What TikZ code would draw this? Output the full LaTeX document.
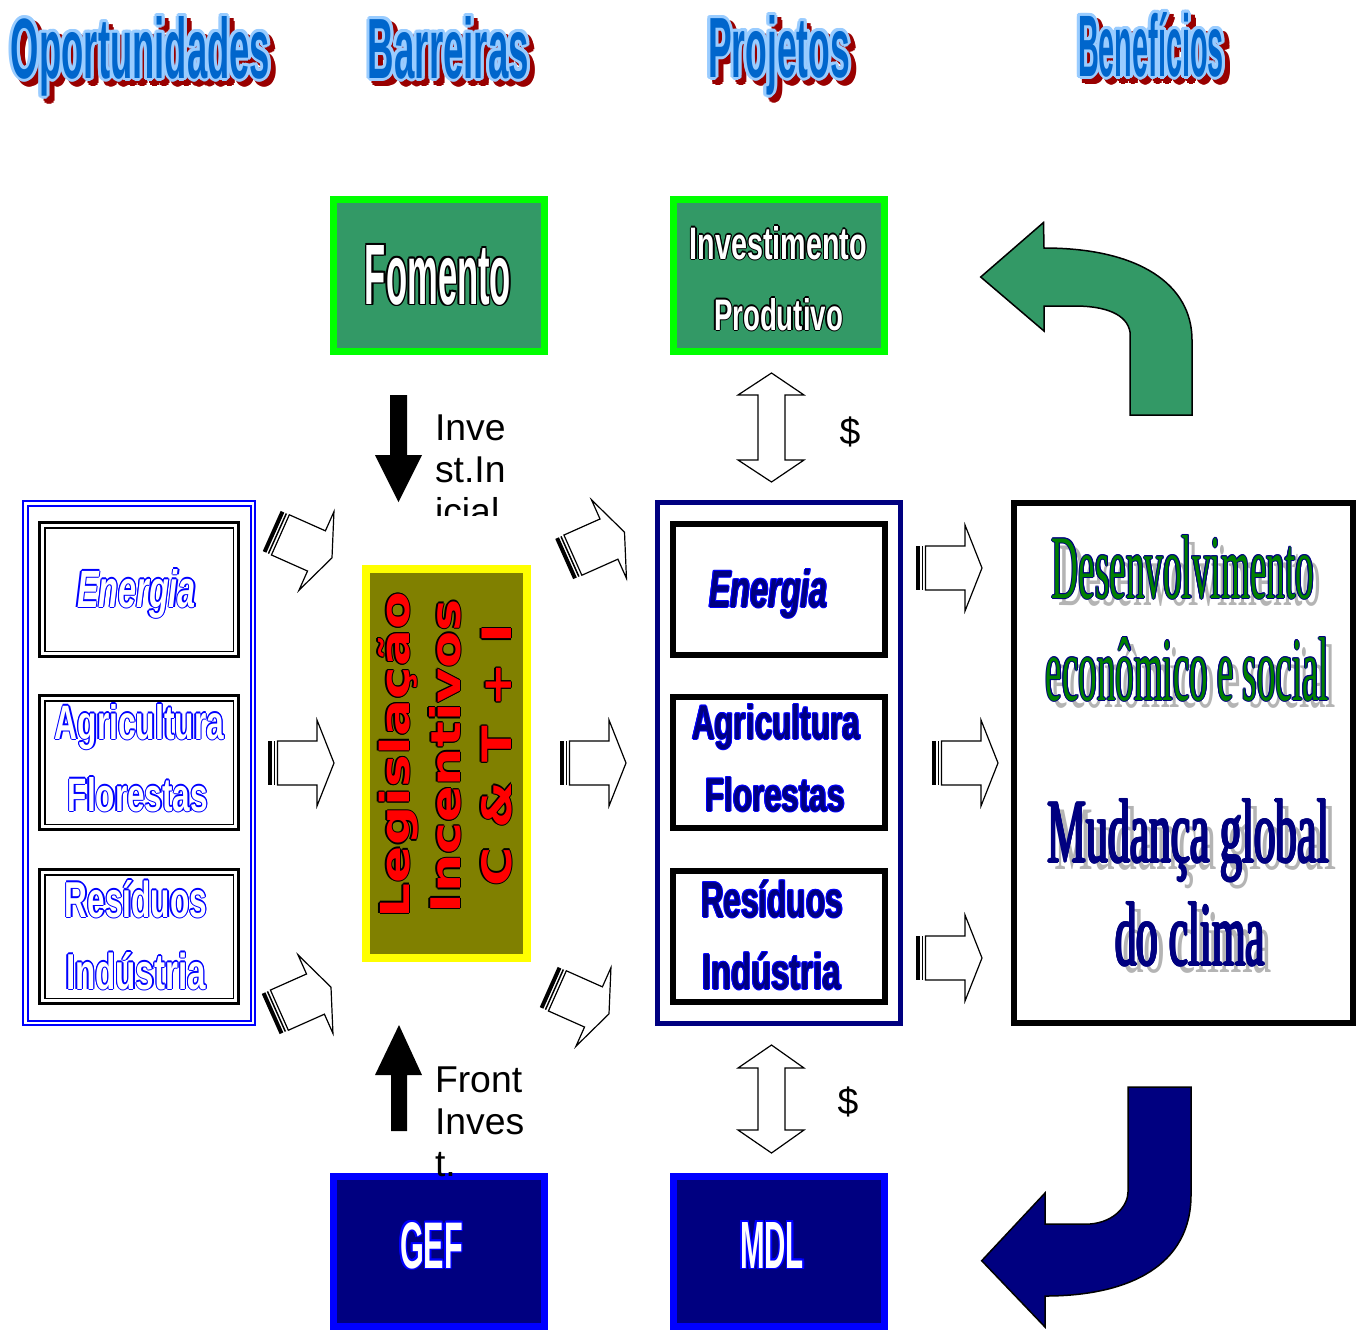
\documentclass[tikz,border=0pt]{standalone}
\usepackage{fontspec}
\setmainfont{Liberation Sans}
\newfontfamily\serifface{Liberation Serif}
\newfontfamily\dejavu{DejaVu Sans}
\usepackage{graphicx}
\newlength\px
\setlength\px{0.75pt}
\definecolor{hblue}{HTML}{0066CC}
\definecolor{hlight}{HTML}{99CCFF}
\definecolor{hred}{HTML}{990000}
\definecolor{sgreen}{HTML}{339966}
\definecolor{lgreen}{HTML}{00FF00}
\definecolor{navy}{HTML}{000080}
\definecolor{pblue}{HTML}{0000FF}
\definecolor{yel}{HTML}{FFFF00}
\definecolor{olive}{HTML}{808000}
\definecolor{tgreen}{HTML}{008000}
\definecolor{shgray}{HTML}{B4B4B4}
\tikzset{
  tx/.style={inner sep=0pt, outer sep=0pt, anchor=base},
  lbl/.style={inner sep=0pt, outer sep=0pt, anchor=base west, font=\fontsize{28}{34}\selectfont},
  sarrow/.pic={
    \fill (0,-22) rectangle (4,22);
    \fill (5.5,-22) rectangle (7,22);
    \draw[line width=1.2\px, fill=white, line join=miter] (9.5,-22) -- (49,-22) -- (49,-43) -- (66,0) -- (49,43) -- (49,22) -- (9.5,22) -- cycle;
  },
  hollowdbl/.style={draw=black, fill=white, line width=1.2\px},
  solidarr/.style={fill=black},
  greenbox/.style={draw=lgreen, fill=sgreen, line width=7\px, minimum width=211\px, minimum height=152\px, inner sep=0pt},
  bluebox/.style={draw=pblue, fill=navy, line width=7\px, minimum width=211\px, minimum height=150\px, inner sep=0pt},
  lbouter/.style={draw=black, line width=3\px, minimum width=199\px, minimum height=134\px, inner sep=0pt},
  lbinner/.style={draw=black, line width=1.5\px, minimum width=188.5\px, minimum height=123.5\px, inner sep=0pt},
  pbox/.style={draw=black, line width=6\px, minimum width=212\px, minimum height=131\px, inner sep=0pt},
}
\newcommand\fitx[3]{\resizebox{#1\px}{#2\px}{#3}}
% outlined text: name, position, options, content, fill, stroke, radius
\newcommand\olt[7]{%
  \foreach \ang in {0,45,...,315}{\node[tx,#3,text=#6,shift={(\ang:#7)}] at (#2) {#4};}
  \node[tx,#3,text=#5] (#1) at (#2) {#4};}
% header: name, x, baseline, w, h, text
\newcommand\hdr[6]{%
  \foreach \ang in {0,45,...,315}{\node[tx,text=hred,shift={(5,5)},shift={(\ang:3)}] at (#2,#3) {\fitx{#4}{#5}{\bfseries #6}};}
  \foreach \ang in {0,30,...,330}{\node[tx,text=hlight,shift={(\ang:3)}] at (#2,#3) {\fitx{#4}{#5}{\bfseries #6}};}
  \node[tx,text=hblue] (#1) at (#2,#3) {\fitx{#4}{#5}{\bfseries #6}};}
% benefit text with shadow: name, x, baseline, w, h, text, fill
\newcommand\bent[7]{%
  \node[tx,text=shgray,shift={(7,7)}] at (#2,#3) {\fitx{#4}{#5}{\serifface #6}};
  \olt{#1}{#2,#3}{}{\fitx{#4}{#5}{\serifface #6}}{#7}{navy}{1}}
\begin{document}
\begin{tikzpicture}[x=\px,y=-\px]
\useasboundingbox[fill=white] (0,0) rectangle (1366,1329);

% ---------- headers ----------
\hdr{hOport}{140.5}{78}{259}{62}{Oportunidades}
\hdr{hBarr}{448.5}{78}{161}{62}{Barreiras}
\hdr{hProj}{779}{77}{142}{62}{Projetos}
\hdr{hBenef}{1151}{76}{146}{64}{Benefícios}

% ---------- top boxes ----------
\node[greenbox] (fomentoBox) at (439,275.5) {};
\olt{fomento}{438,304}{}{\fitx{146}{59}{\bfseries Fomento}}{white}{black}{1.5}
\node[greenbox] (investBox) at (779,275.5) {};
\olt{invest}{778.5,259}{}{\fitx{177}{33}{\bfseries Investimento}}{white}{black}{1.2}
\olt{produt}{778.5,330}{}{\fitx{129}{32}{\bfseries Produtivo}}{white}{black}{1.2}

% ---------- bottom boxes ----------
\node[bluebox] (gefBox) at (439,1251) {};
\olt{gef}{431.5,1268}{}{\fitx{63}{46}{\bfseries GEF}}{white}{pblue}{1.5}
\node[bluebox] (mdlBox) at (779,1251) {};
\olt{mdl}{772,1268}{}{\fitx{64}{46}{\bfseries MDL}}{white}{pblue}{1.5}

% ---------- solid arrows and labels ----------
\fill[solidarr] (390,395) -- (407,395) -- (407,455) -- (422,455) -- (398.5,502) -- (375,455) -- (390,455) -- cycle;
\begin{scope}
\clip (420,380) rectangle (640,515);
\node[lbl] (lInve) at (435,440) {Inve};
\node[lbl] (lStIn) at (435,482) {st.In};
\node[lbl] (lIcial) at (435,524) {icial};
\end{scope}
\fill[solidarr] (391,1131) -- (407,1131) -- (407,1075) -- (422,1075) -- (399,1025) -- (375,1075) -- (391,1075) -- cycle;
\node[lbl] (lFront) at (435,1092) {Front};
\node[lbl] (lInves) at (435,1134) {Inves};
\node[lbl] (lT) at (435,1176) {t.};

% ---------- hollow double arrows ----------
\draw[hollowdbl] (771.5,373) -- (804,395) -- (785,395) -- (785,460) -- (804,460) -- (771.5,482) -- (738,460) -- (758,460) -- (758,395) -- (738,395) -- cycle;
\node[tx] (dollarA) at (850,444) {\fontsize{28}{34}\selectfont\$};
\draw[hollowdbl] (771.5,1045) -- (804,1068) -- (785,1068) -- (785,1130) -- (804,1130) -- (771.5,1153) -- (738,1130) -- (758,1130) -- (758,1068) -- (738,1068) -- cycle;
\node[tx] (dollarB) at (848,1114) {\fontsize{28}{34}\selectfont\$};

% ---------- left box ----------
\node[draw=pblue, double=white, line width=2\px, double distance=2.5\px, minimum width=227.5\px, minimum height=519.5\px, inner sep=0pt] (leftBox) at (139,763) {};
\node[lbouter] (lEnBox) at (139,589.5) {};
\node[lbinner] at (139,589.5) {};
\node[lbouter] (lAgBox) at (139,762.5) {};
\node[lbinner] at (139,762.5) {};
\node[lbouter] (lReBox) at (139,936.5) {};
\node[lbinner] at (139,936.5) {};
\olt{lEn}{136.5,607}{}{\fitx{119}{38}{\bfseries\itshape Energia}}{white}{pblue}{1.3}
\olt{lAg}{139.5,739}{}{\fitx{169}{35}{\bfseries Agricultura}}{white}{pblue}{1.3}
\olt{lFl}{138,811}{}{\fitx{140}{34}{\bfseries Florestas}}{white}{pblue}{1.3}
\olt{lRe}{136,917}{}{\fitx{142}{37}{\bfseries Resíduos}}{white}{pblue}{1.3}
\olt{lIn}{136,989}{}{\fitx{140}{37}{\bfseries Indústria}}{white}{pblue}{1.3}

% ---------- yellow box ----------
\node[draw=yel, fill=olive, line width=8\px, minimum width=161\px, minimum height=389\px, inner sep=0pt] (barBox) at (446.5,763.5) {};
\olt{legis}{409,755}{rotate=90}{\fitx{326}{31}{\dejavu\bfseries Legislação}}{red}{black}{1.2}
\olt{incent}{460,756}{rotate=90}{\fitx{314}{31}{\dejavu\bfseries Incentivos}}{red}{black}{1.2}
\olt{cti}{511,755}{rotate=90}{\fitx{262}{30}{\dejavu\bfseries C \& T + I}}{red}{black}{1.2}

% ---------- projetos box ----------
\node[draw=navy, line width=5\px, minimum width=243\px, minimum height=521\px, inner sep=0pt] (projBox) at (779,763) {};
\node[pbox] (pEnBox) at (779,589.5) {};
\node[pbox] (pAgBox) at (779,762.5) {};
\node[pbox] (pReBox) at (779,936.5) {};
\olt{pEn}{768.5,607}{}{\fitx{119}{38}{\bfseries\itshape Energia}}{navy}{pblue}{1}
\olt{pAg}{776,739}{}{\fitx{168}{35}{\bfseries Agricultura}}{navy}{pblue}{1}
\olt{pFl}{775,811}{}{\fitx{140}{34}{\bfseries Florestas}}{navy}{pblue}{1}
\olt{pRe}{772,917}{}{\fitx{142}{37}{\bfseries Resíduos}}{navy}{pblue}{1}
\olt{pIn}{771.5,989}{}{\fitx{139}{37}{\bfseries Indústria}}{navy}{pblue}{1}

% ---------- benefits box ----------
\node[draw=black, line width=6\px, minimum width=339\px, minimum height=520\px, inner sep=0pt] (benBox) at (1183.5,763) {};
\bent{bDes}{1183}{598}{262}{63}{Desenvolvimento}{tgreen}
\bent{bEco}{1187.5}{700}{283}{63}{econômico e social}{tgreen}
\bent{bMud}{1188.5}{862}{281}{63}{Mudança global}{navy}
\bent{bClima}{1190}{965}{150}{63}{do clima}{navy}

% ---------- striped arrows ----------
\pic[rotate=-24] at (271.7,531) {sarrow};
\pic at (268,763) {sarrow};
\pic[rotate=24] at (270.7,1014) {sarrow};
\pic[rotate=24] at (564.2,559) {sarrow};
\pic at (560,763) {sarrow};
\pic[rotate=-24] at (548.7,987) {sarrow};
\pic at (916,568) {sarrow};
\pic at (932,763) {sarrow};
\pic at (916,958) {sarrow};

% ---------- curved arrows ----------
\draw[fill=sgreen, line width=1.5\px, line join=miter] (980.7,277) -- (1043.5,222.5) -- (1044,248) .. controls (1140,248) and (1192,285) .. (1192,340) -- (1192,415) -- (1130,415) -- (1130,332) .. controls (1127,314) and (1105,306) .. (1075,306) -- (1044,306) -- (1044,331) -- cycle;
\draw[fill=navy, line width=1.5\px, line join=miter] (1128,1087) -- (1191,1087) -- (1191,1195) .. controls (1191,1265) and (1130,1296) .. (1045,1296) -- (1045,1327) -- (981.7,1260.7) -- (1045,1193) -- (1045,1224) -- (1090,1224) .. controls (1115,1222) and (1128,1205) .. (1128,1192) -- cycle;
\end{tikzpicture}
\end{document}
